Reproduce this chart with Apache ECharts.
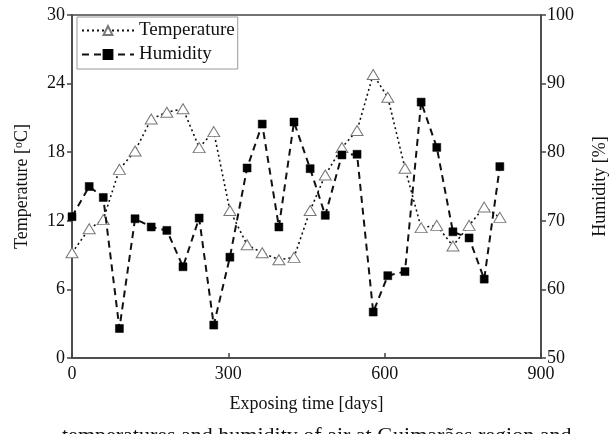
<!DOCTYPE html>
<html>
<head>
<meta charset="utf-8">
<script src="https://cdn.jsdelivr.net/npm/echarts@6/dist/echarts.min.js"></script>
<style>
    html, body { margin: 0; padding: 0; background: #fff; }
    #chart { width: 614px; height: 434px; }
</style>
</head>
<body>
<div id="chart"></div>
<script>
// exposing time in days (shared by both series)
const days = [0, 33, 60, 91, 121, 152, 182, 213, 244, 272, 303, 336, 365, 397,
    426, 457, 486, 518, 547, 578, 606, 639, 670, 700, 731, 762, 791, 821]
const temperature = [9.2, 11.3, 12.1, 16.5, 18.1, 20.9, 21.5, 21.8, 18.4, 19.8, 12.9, 9.9, 9.2, 8.6,
    8.8, 12.9, 16.0, 18.4, 19.9, 24.8, 22.8, 16.6, 11.4, 11.6, 9.8, 11.6, 13.2, 12.3]
const humidity = [70.6, 75.0, 73.4, 54.3, 70.3, 69.1, 68.6, 63.3, 70.4, 54.8, 64.7, 77.7, 84.1, 69.1,
    84.4, 77.6, 70.8, 79.6, 79.7, 56.7, 62.0, 62.6, 87.3, 80.7, 68.4, 67.5, 61.5, 77.9]
const xTicks = [0, 300, 600, 900]
const tempTicks = [0, 6, 12, 18, 24, 30]
const humTicks = [50, 60, 70, 80, 90, 100]

const font = 'Liberation Serif'
const axisColor = '#444'

const chart = echarts.init(document.getElementById('chart'))

const option = {
    animation: false,
    backgroundColor: '#fff',
    textStyle: { fontFamily: font, color: '#111' },
    grid: {
        left: 72, right: 73, top: 15, bottom: 76,
        outerBoundsMode: 'none',
        show: true,
        borderColor: axisColor,
        borderWidth: 1.5
    },
    legend: {
        orient: 'vertical',
        left: 77,
        top: 17,
        padding: [4, 3, 5, 4],
        itemGap: 5,
        itemWidth: 52,
        itemHeight: 11,
        borderColor: '#999',
        borderWidth: 1,
        textStyle: { fontFamily: font, fontSize: 19, color: '#111' },
        data: ['Temperature', 'Humidity']
    },
    xAxis: {
        type: 'value',
        min: xTicks[0],
        max: xTicks[xTicks.length - 1],
        interval: 300,
        name: 'Exposing time [days]',
        nameLocation: 'middle',
        nameGap: 37,
        nameTextStyle: { fontFamily: font, fontSize: 18, color: '#111' },
        axisLine: { lineStyle: { color: axisColor, width: 1.5 } },
        axisTick: { inside: true, length: 5, lineStyle: { color: axisColor, width: 1.5 } },
        axisLabel: { fontFamily: font, fontSize: 18, color: '#111', margin: 7 },
        splitLine: { show: false }
    },
    yAxis: [
        {
            type: 'value',
            position: 'left',
            min: tempTicks[0],
            max: tempTicks[tempTicks.length - 1],
            interval: 6,
            name: 'Temperature [{sup|o}C]',
            nameLocation: 'middle',
            nameGap: 41,
            nameTextStyle: {
                fontFamily: font, fontSize: 18, color: '#111',
                rich: { sup: { fontFamily: font, fontSize: 12, verticalAlign: 'top', padding: [0, 0, 6, 0] } }
            },
            axisLine: { show: true, lineStyle: { color: axisColor, width: 1.5 } },
            axisTick: { show: true, length: 5, lineStyle: { color: axisColor, width: 1.5 } },
            axisLabel: { fontFamily: font, fontSize: 18, color: '#111', margin: 7 },
            splitLine: { show: false }
        },
        {
            type: 'value',
            position: 'right',
            min: humTicks[0],
            max: humTicks[humTicks.length - 1],
            interval: 10,
            name: 'Humidity [%]',
            nameLocation: 'middle',
            nameGap: 50,
            nameRotate: 90,
            nameTextStyle: { fontFamily: font, fontSize: 18, color: '#111' },
            axisLine: { show: true, lineStyle: { color: axisColor, width: 1.5 } },
            axisTick: { show: true, length: 5, lineStyle: { color: axisColor, width: 1.5 } },
            axisLabel: { fontFamily: font, fontSize: 18, color: '#111', margin: 6 },
            splitLine: { show: false }
        }
    ],
    graphic: [
        {
            type: 'text',
            left: 62,
            top: 425,
            style: {
                text: 'temperatures and humidity of air at Guimarães region and',
                font: '22px "Liberation Serif"',
                fill: '#111'
            }
        }
    ],
    series: [
        {
            name: 'Temperature',
            type: 'line',
            yAxisIndex: 0,
            data: days.map((d, i) => [d, temperature[i]]),
            symbol: 'triangle',
            symbolSize: [12, 10],
            itemStyle: { color: '#fff', borderColor: '#777', borderWidth: 1 },
            lineStyle: { color: '#111', width: 1.6, type: [2, 3] },
            z: 2
        },
        {
            name: 'Humidity',
            type: 'line',
            yAxisIndex: 1,
            data: days.map((d, i) => [d, humidity[i]]),
            symbol: 'rect',
            symbolSize: 8,
            itemStyle: { color: '#000', borderColor: '#000', borderWidth: 0.5 },
            lineStyle: { color: '#111', width: 2, type: [7, 5] },
            z: 3
        }
    ]
}

chart.setOption(option)
</script>
</body>
</html>
